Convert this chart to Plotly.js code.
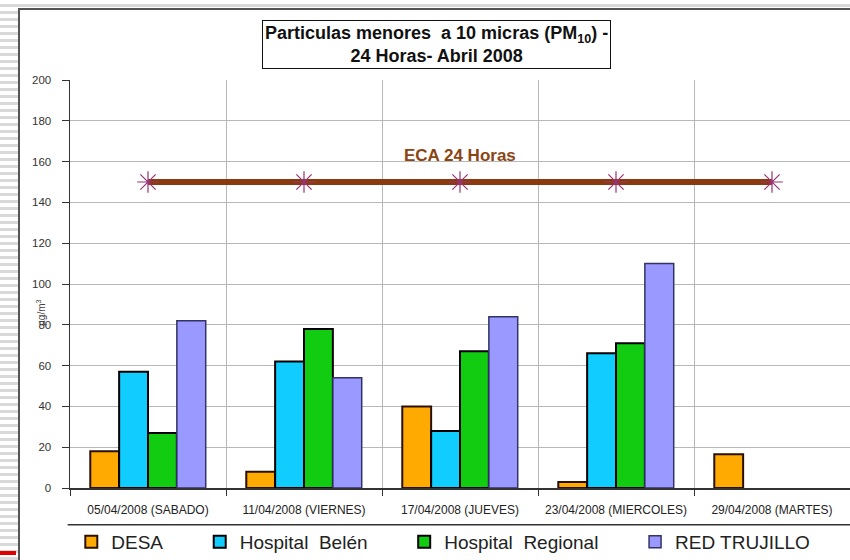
<!DOCTYPE html>
<html>
<head>
<meta charset="utf-8">
<script src="https://cdn.plot.ly/plotly-3.0.1.min.js"></script>
<style>
  html, body { margin: 0; padding: 0; width: 850px; height: 560px; overflow: hidden; }
  body {
    background: repeating-linear-gradient(to bottom, #ffffff 0px, #ffffff 4px, #d9d9d9 4px, #d9d9d9 7px);
    position: relative;
  }
  #chart {
    position: absolute; left: 18px; top: 8px; width: 832px; height: 552px;
    border-left: 2px solid #555; border-top: 2px solid #555; box-sizing: border-box;
    background: #fff;
  }
  #redmark { position: absolute; left: 0; top: 551px; width: 16px; height: 4px; background: #e00000; }
</style>
</head>
<body>
<div id="chart"></div>
<div id="redmark"></div>
<script>
// ---- data ----
const categories = ["05/04/2008 (SABADO)", "11/04/2008 (VIERNES)", "17/04/2008 (JUEVES)", "23/04/2008 (MIERCOLES)", "29/04/2008 (MARTES)"];
const desa = [18, 8, 40, 3, 16.5];
const hospitalBelen = [57, 62, 28, 66, null];
const hospitalRegional = [27, 78, 67, 71, null];
const redTrujillo = [82, 54, 84, 110, null];
const eca24 = [150, 150, 150, 150, 150];
const yTicks = [0, 20, 40, 60, 80, 100, 120, 140, 160, 180, 200];
const seriesNames = ['DESA', 'Hospital  Belén', 'Hospital  Regional', 'RED TRUJILLO'];

const sans = "'Liberation Sans', Arial, sans-serif";
const pad = '\u00a0\u00a0\u00a0\u00a0\u00a0\u00a0';

function barTrace(name, y, color, lineColor, lineWidth) {
  return {
    type: 'bar', name: name, x: categories, y: y,
    marker: { color: color, line: { color: lineColor, width: lineWidth } }
  };
}

const traces = [
  barTrace(seriesNames[0] + pad, desa, '#FFAA00', '#2a1000', 2),
  barTrace(seriesNames[1] + pad, hospitalBelen, '#11CCFF', '#000000', 2),
  barTrace(seriesNames[2] + pad, hospitalRegional, '#11CC11', '#000000', 2),
  barTrace(seriesNames[3], redTrujillo, '#9999FF', '#333366', 1.5),
  {
    type: 'scatter', mode: 'lines+markers', name: 'ECA 24 Horas', x: categories, y: eca24,
    showlegend: false,
    line: { color: '#8B3A0F', width: 6 },
    marker: { symbol: 'asterisk-open', size: 18, color: '#993377', line: { color: '#993377', width: 1.2 } }
  }
];

const layout = {
  width: 830, height: 550,
  margin: { l: 50, r: 0, t: 70, b: 72 },
  paper_bgcolor: 'rgba(0,0,0,0)',
  plot_bgcolor: '#ffffff',
  barmode: 'group',
  bargap: 0.26,
  bargroupgap: 0,
  showlegend: true,
  legend: {
    orientation: 'h', xref: 'container', yref: 'container',
    x: 0.51, xanchor: 'center', y: 0.033, yanchor: 'middle',
    font: { family: sans, size: 19, color: '#222' },
    traceorder: 'normal', itemwidth: 30
  },
  xaxis: {
    type: 'category',
    tickson: 'boundaries',
    showgrid: true, gridcolor: '#b8b8b8', gridwidth: 1,
    ticks: 'outside', ticklen: 6, tickcolor: '#333',
    showline: true, linecolor: '#333', linewidth: 1.5,
    tickfont: { family: sans, size: 12, color: '#222' },
    ticklabelstandoff: 10,
    automargin: false
  },
  yaxis: {
    range: [0, 200], tickvals: yTicks, ticktext: yTicks.map(String),
    showgrid: true, gridcolor: '#b8b8b8', gridwidth: 1,
    ticks: 'outside', ticklen: 7, tickcolor: '#333',
    showline: true, linecolor: '#333', linewidth: 1.5,
    zeroline: false,
    tickfont: { family: sans, size: 11.5, color: '#333' },
    ticklabelstandoff: 8,
    automargin: false
  },
  annotations: [
    {
      xref: 'paper', yref: 'paper', x: 0.47, y: 1.087, xanchor: 'center', yanchor: 'middle',
      text: '<b>Particulas menores  a 10 micras (PM<sub>10</sub>) -<br>24 Horas- Abril 2008</b>',
      showarrow: false, align: 'center',
      font: { family: sans, size: 18, color: '#111' },
      bgcolor: '#ffffff', bordercolor: '#111', borderwidth: 1, borderpad: 2
    },
    {
      xref: 'x', yref: 'y', x: categories[2], y: 150, yanchor: 'bottom', yshift: 15,
      text: '<b>ECA 24 Horas</b>', showarrow: false,
      font: { family: sans, size: 17, color: '#8B4513' }
    },
    {
      xref: 'paper', yref: 'paper', x: -0.038, y: 0.43, xanchor: 'center', yanchor: 'middle',
      text: 'µg/m<sup>3</sup>', textangle: -90, showarrow: false,
      font: { family: sans, size: 10, color: '#444' }
    }
  ],
  shapes: [
    {
      type: 'line', xref: 'paper', yref: 'paper', x0: -0.003, x1: 1.01, y0: -0.09, y1: -0.09,
      line: { color: '#333', width: 1.5 }
    }
  ]
};

Plotly.newPlot('chart', traces, layout, { displayModeBar: false, staticPlot: true });
</script>
</body>
</html>
